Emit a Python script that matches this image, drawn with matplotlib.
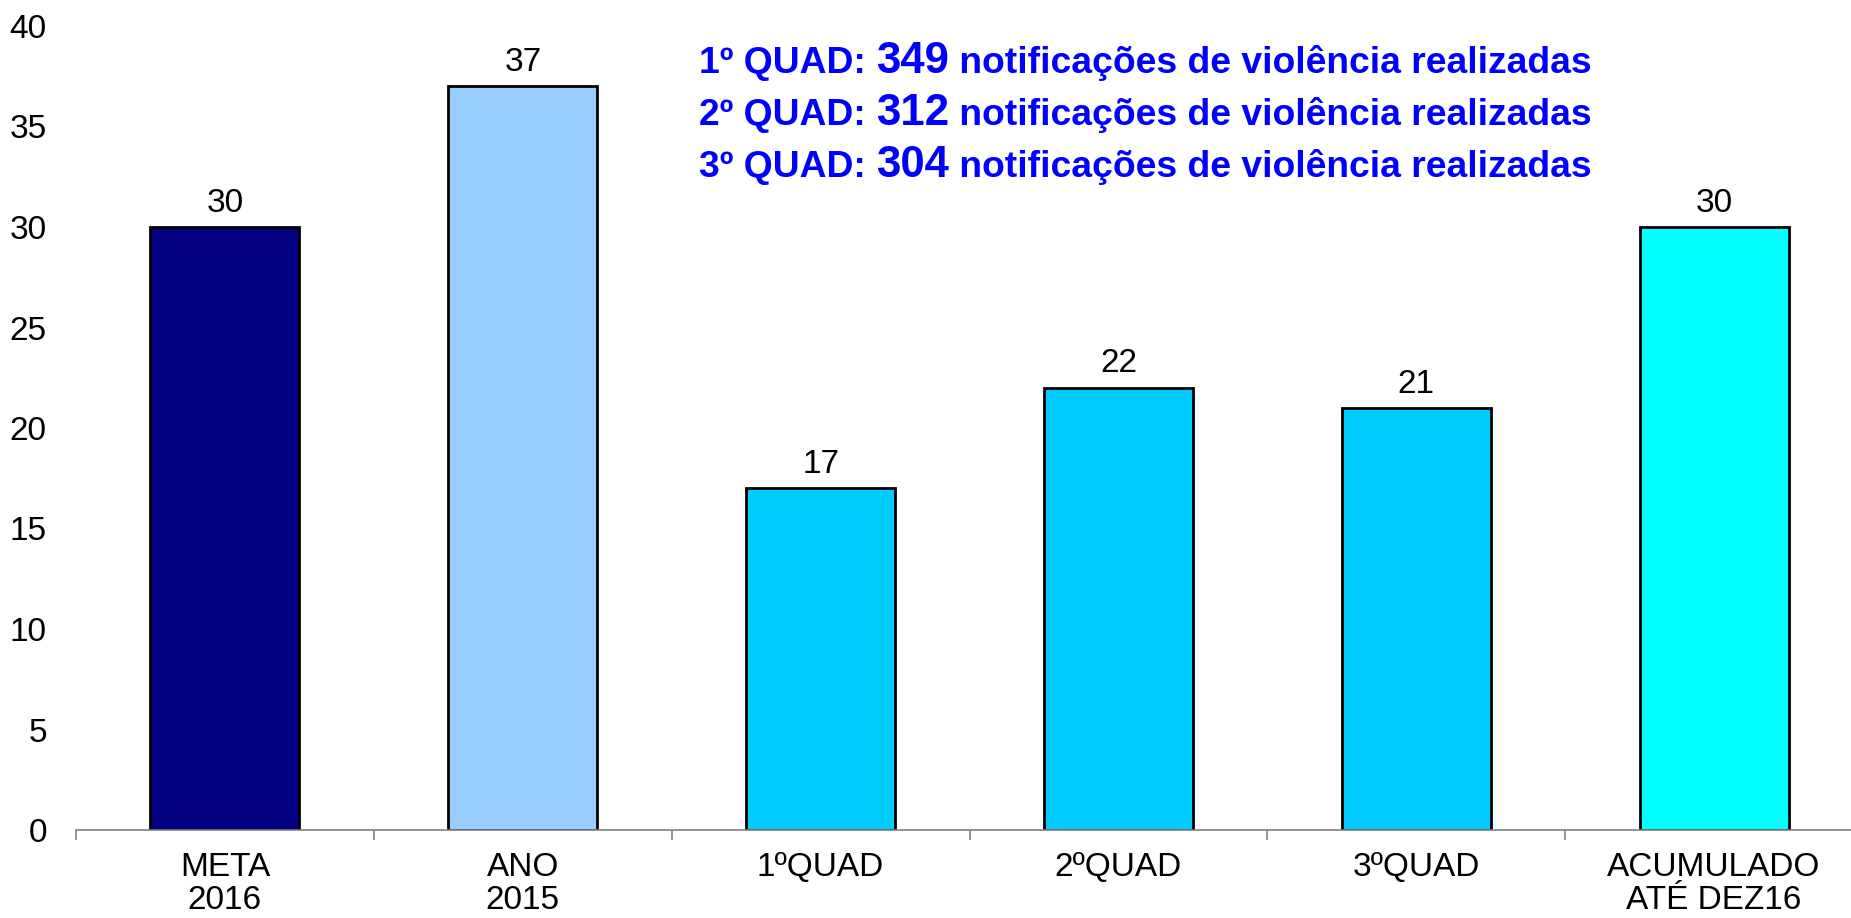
import matplotlib
matplotlib.use("Agg")
import matplotlib.pyplot as plt

categories = ["META\n2016", "ANO\n2015", "1ºQUAD", "2ºQUAD", "3ºQUAD", "ACUMULADO\nATÉ DEZ16"]
values = [30, 37, 17, 22, 21, 30]
bar_colors = ["#000080", "#99CCFF", "#00CCFF", "#00CCFF", "#00CCFF", "#00FFFF"]
yticks = [0, 5, 10, 15, 20, 25, 30, 35, 40]
notes = [("1º QUAD: ", "349", " notificações de violência realizadas"),
         ("2º QUAD: ", "312", " notificações de violência realizadas"),
         ("3º QUAD: ", "304", " notificações de violência realizadas")]

font = "Liberation Sans"

fig = plt.figure(figsize=(18.51, 9.18), dpi=100)
ax = fig.add_axes([76 / 1851, 88 / 918, 1787 / 1851, 804 / 918])

x = list(range(len(values)))
ax.bar(x, values, width=0.5, color=bar_colors, edgecolor="black", linewidth=2, zorder=3)
ax.set_xlim(-0.5, len(values) - 0.5)
ax.set_ylim(0, 40)

for s in ["top", "right", "left"]:
    ax.spines[s].set_visible(False)
ax.spines["bottom"].set_color("#808080")
ax.spines["bottom"].set_linewidth(1.2)
ax.spines["bottom"].set_zorder(4)

ax.set_yticks(yticks)
ax.set_yticklabels([str(v) for v in yticks], fontfamily=font, fontsize=24)
ax.tick_params(axis="y", length=0, pad=21)

ax.set_xticks([i - 0.5 for i in range(len(values) + 1)], minor=False)
ax.set_xticklabels([])
ax.tick_params(axis="x", which="major", length=7.5, width=1.2, color="#808080", direction="out")
ax.set_xticks(x, minor=True)
ax.set_xticklabels(categories, minor=True, fontfamily=font, fontsize=24, linespacing=1.08)
ax.tick_params(axis="x", which="minor", length=0, pad=16)

for xi, v in zip(x, values):
    ax.annotate(str(v), (xi, v), xytext=(0, 6), textcoords="offset points",
                ha="center", va="bottom", fontfamily=font, fontsize=24, zorder=5)

fig.canvas.draw()
renderer = fig.canvas.get_renderer()
x0 = 699
ys = [73, 125, 177]
for (a, b, c), yp in zip(notes, ys):
    xc = x0
    for txt, size in ((a, 26.8), (b, 31.5), (c, 26.8)):
        t = fig.text(xc / 1851, 1 - yp / 918, txt, fontfamily=font, fontweight="bold",
                     fontsize=size, color="#0000FF", ha="left", va="baseline")
        bb = t.get_window_extent(renderer)
        xc = bb.x1

fig.savefig("out.png", dpi=100)
